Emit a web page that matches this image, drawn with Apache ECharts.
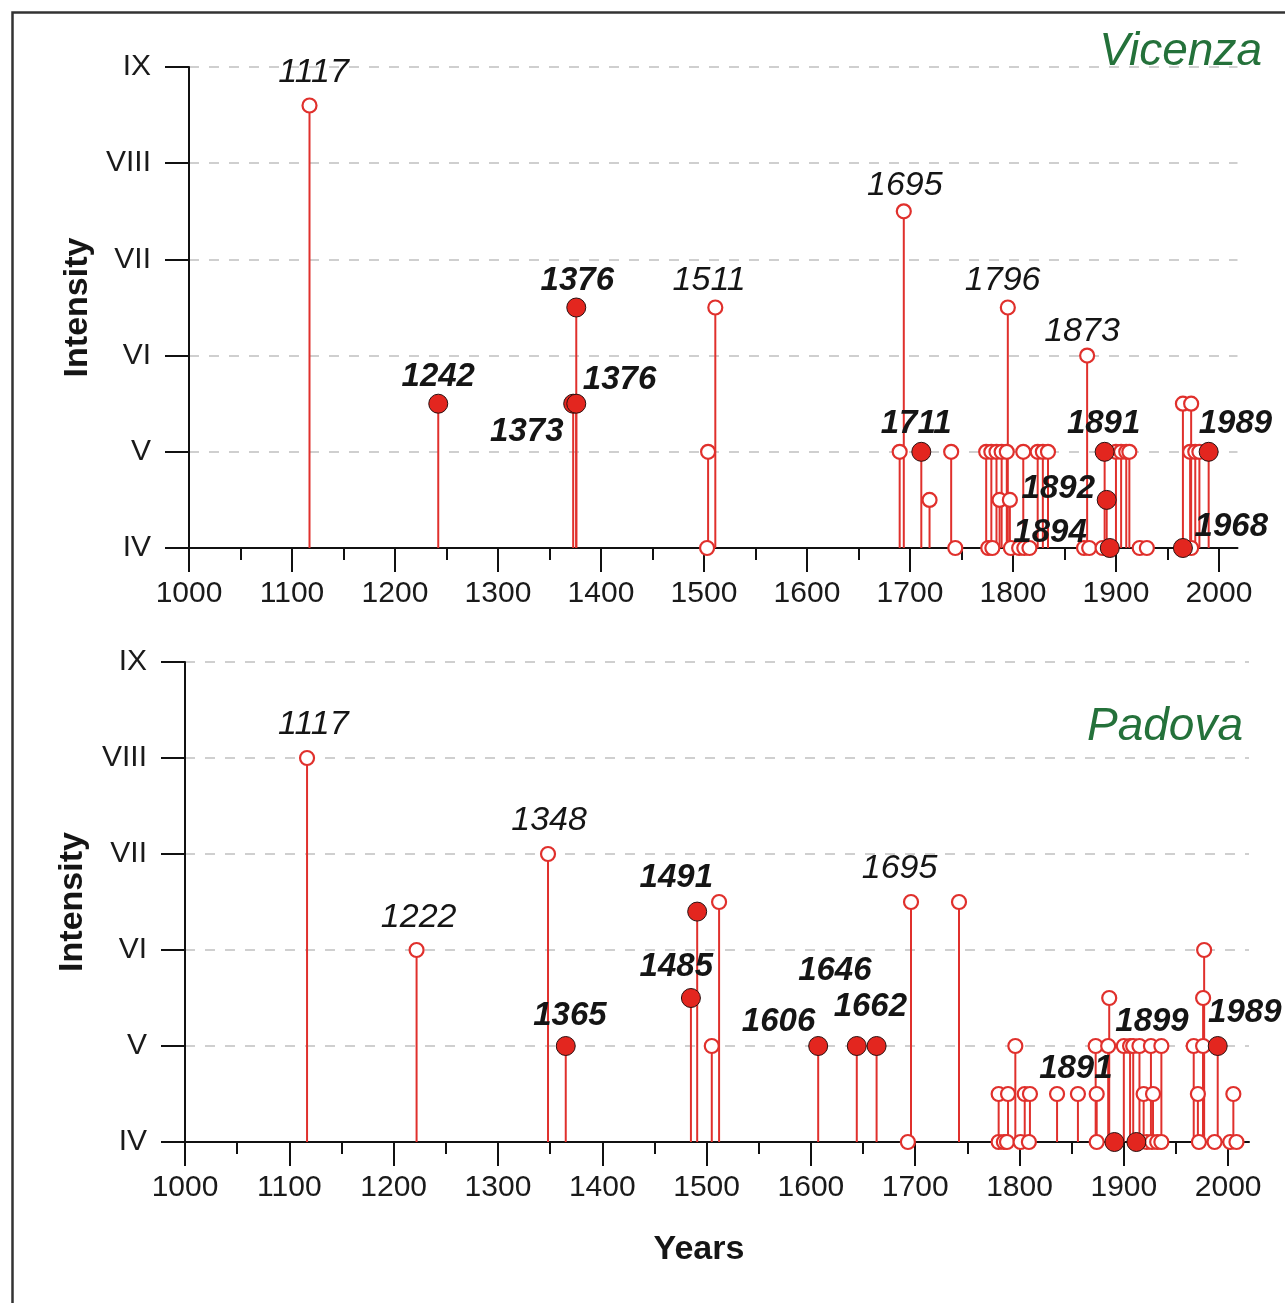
<!DOCTYPE html>
<html><head><meta charset="utf-8">
<script src="https://cdn.jsdelivr.net/npm/echarts@6/dist/echarts.min.js"></script>
<style>html,body{margin:0;padding:0;background:#fff}#c{width:1285px;height:1303px}</style>
</head><body><div id="c"></div>
<script>
// ---------- data ----------
const intensityLabels = ['IV', 'V', 'VI', 'VII', 'VIII', 'IX'];
const yearTicks = [1000, 1100, 1200, 1300, 1400, 1500, 1600, 1700, 1800, 1900, 2000];
const halfYearTicks = [1050, 1150, 1250, 1350, 1450, 1550, 1650, 1750, 1850, 1950];
const siteNames = ['Vicenza', 'Padova'];

// Vicenza: [year, intensity]
const vicenzaOpen = [
  [1117, 8.6], [1503, 4], [1504, 5], [1511, 6.5], [1690, 5], [1694, 7.5], [1719, 4.5],
  [1740, 5], [1744, 4], [1774, 5], [1779, 5], [1784, 5], [1789, 5], [1794, 5],
  [1776, 4], [1780, 4], [1787, 4.5], [1795, 6.5], [1797, 4.5], [1798, 4], [1806, 4],
  [1810, 5], [1811, 4], [1816, 4], [1824, 5], [1829, 5], [1834, 5], [1869, 4],
  [1872, 6], [1874, 4], [1887, 4], [1900, 5], [1905, 5], [1910, 5], [1913, 5],
  [1923, 4], [1930, 4], [1965, 5.5], [1973, 5.5], [1972, 5], [1977, 5], [1981, 5], [1973, 4]
];
const vicenzaFilled = [
  [1242, 5.5], [1373, 5.5], [1376, 5.5], [1376, 6.5], [1711, 5],
  [1889, 5], [1891, 4.5], [1894, 4], [1965, 4], [1990, 5]
];
// annotations: [year, intensity, text]
const vicenzaNotes = [
  [1121, 8.94, '1117'], [1505, 6.78, '1511'], [1695, 7.77, '1695'],
  [1790, 6.78, '1796'], [1867, 6.25, '1873']
];
const vicenzaBoldNotes = [
  [1242, 5.78, '1242'], [1377, 6.78, '1376'], [1418, 5.75, '1376'], [1328, 5.21, '1373'],
  [1706, 5.29, '1711'], [1888, 5.29, '1891'], [2016, 5.29, '1989'], [1844, 4.61, '1892'],
  [1836, 4.16, '1894'], [2012, 4.22, '1968']
];

// Padova: [year, intensity]
const padovaOpen = [
  [1117, 8], [1222, 6], [1348, 7], [1505, 5], [1512, 6.5], [1693, 4], [1696, 6.5], [1742, 6.5],
  [1796, 5], [1780, 4.5], [1789, 4.5], [1805, 4.5], [1810, 4.5], [1836, 4.5], [1856, 4.5],
  [1874, 4.5], [1919, 4.5], [1928, 4.5], [1971, 4.5], [2005, 4.5],
  [1780, 4], [1785, 4], [1788, 4], [1801, 4], [1809, 4], [1874, 4], [1922, 4], [1927, 4],
  [1932, 4], [1936, 4], [1972, 4], [1987, 4], [2002, 4], [2008, 4],
  [1873, 5], [1885, 5], [1900, 5], [1906, 5], [1909, 5], [1915, 5], [1926, 5], [1936, 5],
  [1967, 5], [1976, 5], [1886, 5.5], [1976, 5.5], [1977, 6]
];
const padovaFilled = [
  [1365, 5], [1485, 5.5], [1491, 6.4], [1607, 5], [1644, 5], [1663, 5],
  [1891, 4], [1912, 4], [1990, 5]
];
const padovaNotes = [
  [1123, 8.35, '1117'], [1224, 6.34, '1222'], [1349, 7.35, '1348'], [1685, 6.85, '1695']
];
const padovaBoldNotes = [
  [1471, 6.75, '1491'], [1471, 5.82, '1485'], [1623, 5.78, '1646'], [1657, 5.41, '1662'],
  [1569, 5.25, '1606'], [1369, 5.31, '1365'], [1927, 5.25, '1899'], [2016, 5.34, '1989'],
  [1854, 4.76, '1891']
];

// ---------- styling ----------
const RED = '#e0302c';
const FONT = '"Liberation Sans", Arial, sans-serif';
const chart = echarts.init(document.getElementById('c'), null, { renderer: 'canvas' });

function stemRender(params, api) {
  const x = api.value(0), v = api.value(1);
  const p0 = api.coord([x, 4]);
  const p1 = api.coord([x, v]);
  return { type: 'line', shape: { x1: p0[0], y1: p0[1], x2: p1[0], y2: p1[1] },
    style: { stroke: RED, lineWidth: 2 } };
}
function noteRender(list, bold) {
  return function (params, api) {
    const p = api.coord([api.value(0), api.value(1)]);
    return { type: 'text', x: p[0], y: p[1],
      style: { text: list[params.dataIndex][2], fill: '#151515',
        font: 'italic ' + (bold ? 'bold 33px ' : '34px ') + FONT,
        align: 'center', verticalAlign: 'middle' } };
  };
}

function xAxes(gridIndex, max) {
  return [{
    type: 'value', gridIndex, min: 1000, max, position: 'bottom', splitLine: { show: false },
    axisLine: { show: true, onZero: false, lineStyle: { color: '#111', width: 2 } },
    axisTick: { show: true, length: 24, customValues: yearTicks, lineStyle: { color: '#111', width: 2 } },
    axisLabel: { customValues: yearTicks, margin: 31, fontSize: 30, color: '#1a1a1a', fontFamily: FONT,
      formatter: v => String(v) }
  }, {
    type: 'value', gridIndex, min: 1000, max, position: 'bottom', offset: 0, splitLine: { show: false },
    axisLine: { show: false, onZero: false },
    axisTick: { show: true, length: 12, customValues: halfYearTicks, lineStyle: { color: '#111', width: 2 } },
    axisLabel: { show: false }
  }];
}
function yAxis(gridIndex, gap) {
  return {
    type: 'value', gridIndex, min: 4, max: 9, interval: 1,
    name: 'Intensity', nameLocation: 'middle', nameGap: gap,
    nameTextStyle: { fontSize: 34, fontWeight: 'bold', color: '#151515', fontFamily: FONT },
    axisLine: { show: true, lineStyle: { color: '#111', width: 2 } },
    axisTick: { show: true, length: 24, lineStyle: { color: '#111', width: 2 } },
    axisLabel: { margin: 38, fontSize: 30, color: '#1a1a1a', fontFamily: FONT,
      formatter: v => intensityLabels[Math.round(v) - 4] },
    splitLine: { show: true, lineStyle: { color: '#cfcfcf', width: 2, type: [10, 10] } }
  };
}
function siteSeries(xi, yi, open, filled, notes, boldNotes) {
  const stems = open.concat(filled);
  return [
    { type: 'custom', xAxisIndex: xi, yAxisIndex: yi, data: stems, renderItem: stemRender,
      encode: { x: 0, y: 1 }, z: 2, clip: false, silent: true },
    { type: 'scatter', xAxisIndex: xi, yAxisIndex: yi, data: open, symbol: 'circle', symbolSize: 14,
      itemStyle: { color: '#ffffff', borderColor: RED, borderWidth: 2.2, opacity: 1 }, z: 3, clip: false },
    { type: 'scatter', xAxisIndex: xi, yAxisIndex: yi, data: filled, symbol: 'circle', symbolSize: 19,
      itemStyle: { color: '#e3261f', borderColor: '#2a1010', borderWidth: 1, opacity: 1 }, z: 4, clip: false },
    { type: 'custom', xAxisIndex: xi, yAxisIndex: yi, data: notes, renderItem: noteRender(notes, false),
      encode: { x: 0, y: 1 }, z: 5, clip: false, silent: true },
    { type: 'custom', xAxisIndex: xi, yAxisIndex: yi, data: boldNotes, renderItem: noteRender(boldNotes, true),
      encode: { x: 0, y: 1 }, z: 5, clip: false, silent: true }
  ];
}

const option = {
  backgroundColor: '#ffffff',
  animation: false,
  grid: [
    { left: 189, top: 67, width: 1048.5, height: 481, containLabel: false, outerBoundsMode: 'none' },
    { left: 185, top: 662, width: 1064, height: 480, containLabel: false, outerBoundsMode: 'none' }
  ],
  xAxis: xAxes(0, 2018).concat(xAxes(1, 2020)),
  yAxis: [yAxis(0, 93), yAxis(1, 95)],
  series: [].concat(
    siteSeries(0, 0, vicenzaOpen, vicenzaFilled, vicenzaNotes, vicenzaBoldNotes),
    siteSeries(2, 1, padovaOpen, padovaFilled, padovaNotes, padovaBoldNotes)
  ),
  graphic: [
    { type: 'rect', left: 10, top: 10, shape: { width: 1300, height: 1292 },
      style: { fill: 'none', stroke: '#333', lineWidth: 2.5 }, z: -1, silent: true },
    { type: 'text', x: 1262, y: 52, style: { text: siteNames[0], fill: '#24713a',
      font: 'italic 46px ' + FONT, align: 'right', verticalAlign: 'middle' } },
    { type: 'text', x: 1243, y: 727, style: { text: siteNames[1], fill: '#24713a',
      font: 'italic 46px ' + FONT, align: 'right', verticalAlign: 'middle' } },
    { type: 'text', x: 699, y: 1250, style: { text: 'Years', fill: '#151515',
      font: 'bold 34px ' + FONT, align: 'center', verticalAlign: 'middle' } }
  ]
};
chart.setOption(option);
</script></body></html>
